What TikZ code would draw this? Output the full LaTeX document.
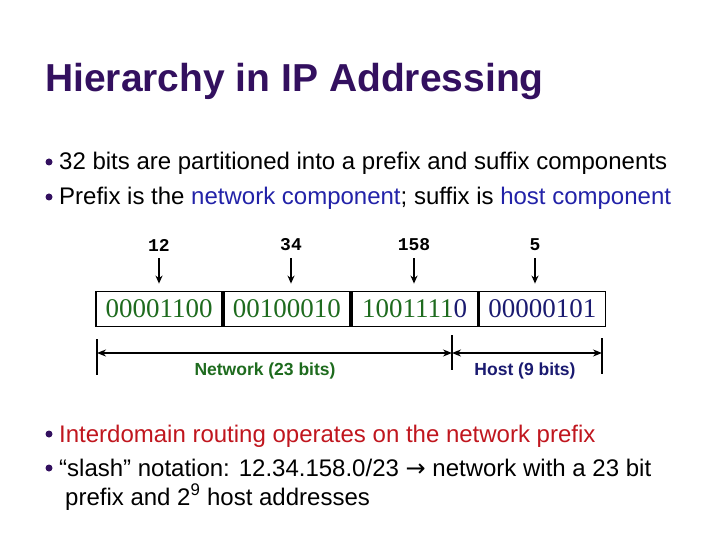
\documentclass[tikz,border=0pt]{standalone}
\usepackage{fontspec}
\setmainfont{Liberation Sans}
\newfontfamily\serifdigits{Liberation Serif}
\newfontfamily\monodigits{Liberation Mono}
\newfontfamily\arrowfont{DejaVu Sans}
\usetikzlibrary{arrows.meta,positioning,calc}
\definecolor{titlepurple}{HTML}{33105F}
\definecolor{bitgreen}{HTML}{1E6B1E}
\definecolor{bitnavy}{HTML}{1A1A70}
\definecolor{textblue}{HTML}{2222A8}
\definecolor{textred}{HTML}{C0161E}
\tikzset{
    bulletdot/.style={circle, fill=titlepurple, inner sep=0pt, minimum size=7pt},
    bodytext/.style={anchor=base west, inner sep=0pt, font=\fontsize{24}{28}\selectfont}
}

\begin{document}
\begin{tikzpicture}[
            x=1pt, y=-1pt,
            bitbox/.style={draw, line width=1.8pt, minimum width=126pt, minimum height=35pt, inner sep=0pt, font=\serifdigits\fontsize{27}{27}\selectfont},
            num/.style={font=\monodigits\bfseries\fontsize{18}{18}\selectfont, inner sep=1pt},
            pointer/.style={-{Stealth[length=8pt, width=7pt]}, line width=1.8pt, shorten <=6pt, shorten >=7pt},
            dim/.style={{Stealth[length=9pt, width=7pt]}-{Stealth[length=9pt, width=7pt]}, line width=1.8pt},
            tick/.style={line width=2.6pt},
            part/.style={font=\bfseries\fontsize{17.5}{18}\selectfont}
        ]
            \useasboundingbox (0,0) rectangle (720,540);

            % Title
            \node[anchor=base west, inner sep=0pt, text=titlepurple, font=\bfseries\fontsize{39}{42}\selectfont] (title) at (45,92) {Hierarchy in IP Addressing};

            % Top bullets
            \node[bulletdot] (d1) at (49,162) {};
            \node[bulletdot] (d2) at (49,197) {};
            \node[bodytext] (t1) at (59,170) {32 bits are partitioned into a prefix and suffix components};
            \node[bodytext] (t2) at (59,205) {Prefix is the \textcolor{textblue}{network component}; suffix is \textcolor{textblue}{host component}};

            % The four octets
            \node[bitbox] (b1) at (159,309) {\textcolor{bitgreen}{00001100}};
            \node[bitbox, right=0pt of b1] (b2) {\textcolor{bitgreen}{00100010}};
            \node[bitbox, right=0pt of b2] (b3) {\textcolor{bitgreen}{1001111}\textcolor{bitnavy}{0}};
            \node[bitbox, right=0pt of b3] (b4) {\textcolor{bitnavy}{00000101}};

            \node[num] (n1) at (159,245) {12};
            \node[num] (n2) at (291,245) {34};
            \node[num] (n3) at (414,245) {158};
            \node[num] (n4) at (535,245) {5};

            \draw[pointer] (n1) -- (n1 |- b1.north);
            \draw[pointer] (n2) -- (n2 |- b2.north);
            \draw[pointer] (n3) -- (n3 |- b3.north);
            \draw[pointer] (n4) -- (n4 |- b4.north);

            % Network / host split
            \coordinate (lend) at (97,353);
            \coordinate (split) at (452,353);
            \coordinate (rend) at (602,353);
            \draw[tick] ($(lend)+(0,-14)$) -- ($(lend)+(0,22)$);
            \draw[tick] ($(split)+(0,-18)$) -- ($(split)+(0,17)$);
            \draw[tick] ($(rend)+(0,-15)$) -- ($(rend)+(0,21)$);
            \draw[dim] (lend) -- (split);
            \draw[dim] (split) -- (rend);
            \node[part, text=bitgreen] (net) at (265,371) {Network (23 bits)};
            \node[part, text=bitnavy] (host) at (525,371) {Host (9 bits)};

            % Bottom bullets
            \node[bulletdot] (d3) at (49,434) {};
            \node[bulletdot] (d4) at (49,468) {};
            \node[bodytext, text=textred] (t3) at (59,442) {Interdomain routing operates on the network prefix};
            \node[bodytext] (t4) at (59,476) {“slash” notation: 12.34.158.0/23 {\arrowfont\fontsize{24}{24}\selectfont →} network with a 23 bit};
            \node[bodytext] (t5) at (65,505) {prefix and 2\textsuperscript{9} host addresses};
        \end{tikzpicture}
\end{document}
